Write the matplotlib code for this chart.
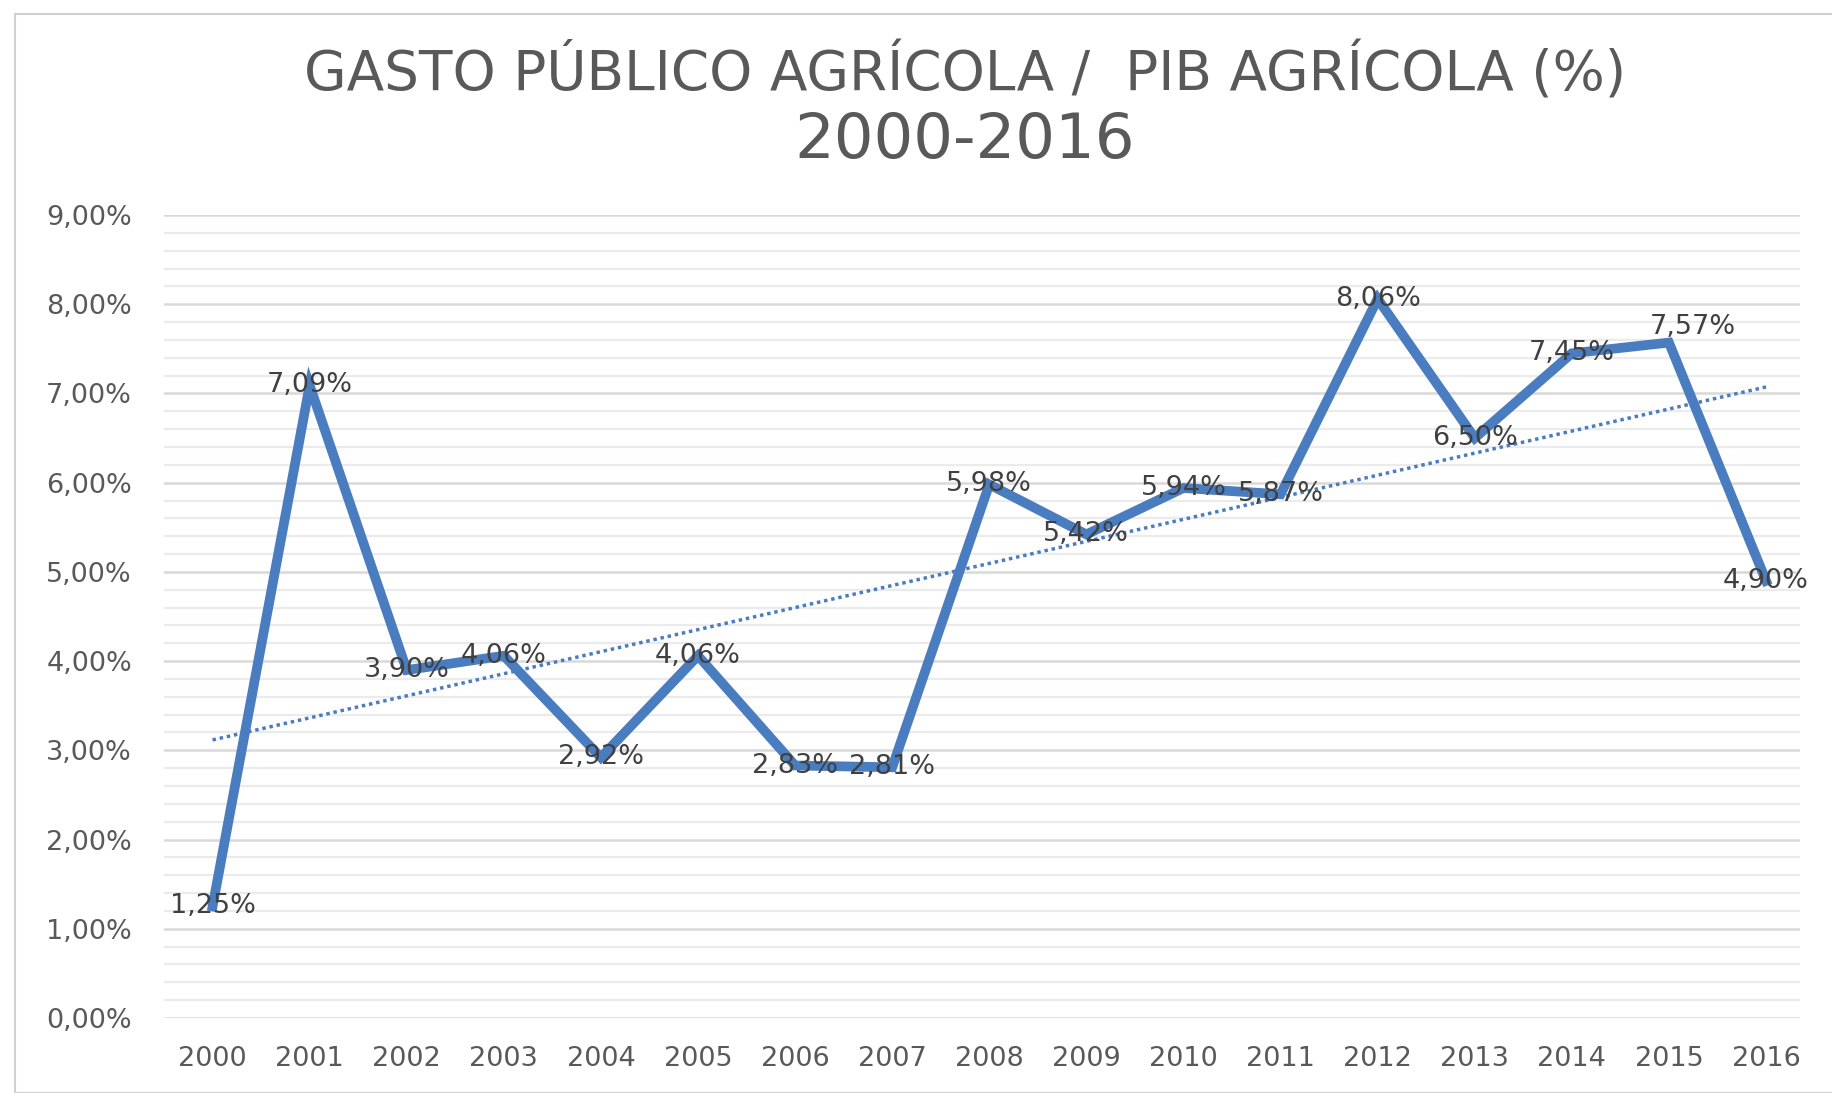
import numpy as np
import matplotlib
matplotlib.use("Agg")
import matplotlib.pyplot as plt
from matplotlib.ticker import MultipleLocator, FuncFormatter
from matplotlib.patches import Rectangle

years = ["2000", "2001", "2002", "2003", "2004", "2005", "2006", "2007", "2008",
         "2009", "2010", "2011", "2012", "2013", "2014", "2015", "2016"]
values = [1.25, 7.09, 3.90, 4.06, 2.92, 4.06, 2.83, 2.81, 5.98,
          5.42, 5.94, 5.87, 8.06, 6.50, 7.45, 7.57, 4.90]
title_line1 = "GASTO PÚBLICO AGRÍCOLA /  PIB AGRÍCOLA (%)"
title_line2 = "2000-2016"

W, H = 1832, 1093
fig = plt.figure(figsize=(W / 100, H / 100), dpi=100)
fig.patch.set_facecolor("white")

# outer chart frame
fig.patches.append(Rectangle((15 / W, 0), 1.2, 1 - 14 / H, transform=fig.transFigure,
                             fill=False, edgecolor="#D0D0D0", linewidth=1.5))

left, right = 164 / W, 1800 / W
bottom, top = 1 - 1018 / H, 1 - 215 / H
ax = fig.add_axes([left, bottom, right - left, top - bottom])

x = np.arange(len(years))
blue = "#4A7CC0"
ax.plot(x, values, color=blue, linewidth=7, solid_joinstyle="miter", zorder=3)

# linear trendline
coef = np.polyfit(x, values, 1)
ax.plot(x, np.polyval(coef, x), color=blue, linestyle=(0, (1, 1.1)), linewidth=2.5, zorder=2)

ax.set_xlim(-0.5, 16.35)
ax.set_ylim(0, 9)
ax.yaxis.set_major_locator(MultipleLocator(1))
ax.yaxis.set_minor_locator(MultipleLocator(0.2))
ax.yaxis.set_major_formatter(FuncFormatter(lambda v, p: f"{v:.2f}".replace(".", ",") + "%"))
ax.set_xticks(x)
ax.set_xticklabels(years)

ax.grid(axis="y", which="major", color="#D9D9D9", linewidth=1.8, zorder=0)
ax.grid(axis="y", which="minor", color="#EBEBEB", linewidth=1.6, zorder=0)
ax.set_axisbelow(True)
for s in ax.spines.values():
    s.set_visible(False)
ax.tick_params(axis="both", which="both", length=0)
ax.tick_params(axis="y", labelsize=19.5, labelcolor="#595959", pad=23)
ax.tick_params(axis="x", labelsize=19.5, labelcolor="#595959", pad=20)

label_offsets = {15: (24, 16)}  # pixel nudges seen in the reference
for xi, v in zip(x, values):
    dx, dy = label_offsets.get(int(xi), (0, 0))
    ax.annotate(f"{v:.2f}".replace(".", ",") + "%", (xi, v), xytext=(dx, dy),
                textcoords="offset pixels", ha="center", va="center",
                fontsize=19.5, color="#404040", zorder=4)

title_fonts = ["DejaVu Sans"]
cx = 0.5 * (left + right) - 0.0095
fig.text(cx, 1 - 73 / H, title_line1, ha="center", va="center",
         fontsize=39.5, color="#595959", family=title_fonts)
fig.text(cx, 1 - 141 / H, title_line2, ha="center", va="center",
         fontsize=45, color="#595959", family=title_fonts)

fig.savefig("out.png", dpi=100)
